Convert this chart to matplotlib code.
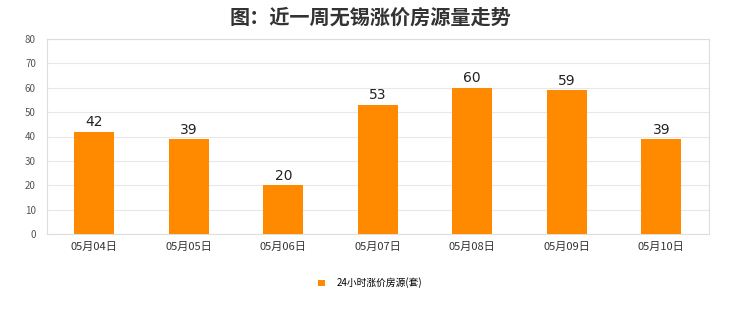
import matplotlib.pyplot as plt
import numpy as np

plt.rcParams['font.family'] = ['Noto Sans CJK SC', 'DejaVu Sans']

#data
dates = ['05月04日', '05月05日', '05月06日', '05月07日', '05月08日', '05月09日', '05月10日']
counts = [42, 39, 20, 53, 60, 59, 39]
series_name = '24小时涨价房源(套)'

fig = plt.figure(figsize=(7.4, 3.12), dpi=100)
ax = fig.add_axes([0.0635, 0.25, 0.894, 0.625])

x = np.arange(len(dates))
bars = ax.bar(x, counts, width=0.42, color='#FF8A00', label=series_name, zorder=3)

#value labels on top of each bar
for xi, v in zip(x, counts):
    ax.text(xi, v + 1, str(v), ha='center', va='bottom', fontsize=10, color='#222222',
            family='DejaVu Sans')

ax.set_xlim(-0.5, len(dates) - 0.5)
ax.set_ylim(0, 80)
ax.set_yticks(range(0, 81, 10))
ax.set_xticks(x)
ax.set_xticklabels(dates, fontsize=8, color='#333333')
ax.tick_params(axis='y', labelsize=7, colors='#555555', length=0, pad=8)
ax.tick_params(axis='x', length=0, pad=6)
ax.grid(axis='y', color='#e8e8e8', linewidth=0.8, zorder=0)
for s in ax.spines.values():
    s.set_color('#dddddd')
    s.set_linewidth(0.8)

fig.suptitle('图：近一周无锡涨价房源量走势', y=0.98, fontsize=14.5, fontweight='bold', color='#333333')

leg = fig.legend(handles=[bars], labels=[series_name], loc='center', bbox_to_anchor=(0.5, 0.093),
                 frameon=False, fontsize=7, handlelength=0.7, handleheight=0.7, handletextpad=1.2)

fig.savefig('out.png', dpi=100)
